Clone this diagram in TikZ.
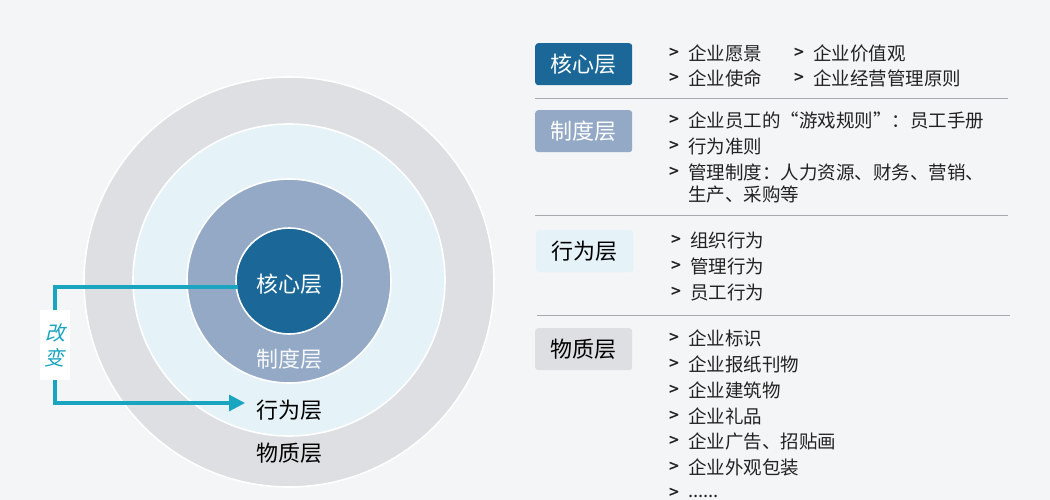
\documentclass[tikz,border=0pt]{standalone}
\usepackage{fontspec}
\setmainfont{Noto Sans CJK SC}
\newfontfamily\cjkit[FakeSlant=0.22]{Noto Sans CJK SC}
\newfontfamily\gtfont[FakeBold=1.2]{Noto Sans CJK SC}
\usetikzlibrary{arrows.meta}
\definecolor{bg}{HTML}{F3F5F7}
\definecolor{ringA}{HTML}{DDDFE2}
\definecolor{ringB}{HTML}{E5F2F8}
\definecolor{ringC}{HTML}{93A9C6}
\definecolor{ringD}{HTML}{1B6898}
\definecolor{teal}{HTML}{19A4BF}
\definecolor{sep}{HTML}{A7AAAE}
\definecolor{txt}{HTML}{222222}
\begin{document}
\begin{tikzpicture}[x=1pt,y=-1pt,
  ring/.style={draw=white,line width=1.6pt},
  clabel/.style={font=\fontsize{22}{24}\selectfont,inner sep=0pt},
  tagbox/.style={rounded corners=3pt,minimum width=97pt,minimum height=42pt,inner sep=0pt,font=\fontsize{22}{24}\selectfont,anchor=north west},
  item/.style={anchor=west,inner sep=0pt,font=\fontsize{18.5}{20}\selectfont,text=txt},
  gt/.style={anchor=west,inner sep=0pt,font=\gtfont\fontsize{17}{20}\selectfont,text=txt},
  sepline/.style={draw=sep,line width=0.9pt},
  arrowc/.style={draw=teal,line width=3.2pt}
]
\fill[bg] (0,0) rectangle (1050,500);
\useasboundingbox (0,0) rectangle (1050,500);
% circles
\fill[ringA,ring] (289,282) circle[radius=205pt];
\fill[ringB,ring] (289,280) circle[radius=156pt];
\fill[ringC,ring] (289,281) circle[radius=102pt];
\fill[ringD,ring] (289,281) circle[radius=53pt];
% circle labels
\node[clabel,text=white] (lcore) at (289,284) {核心层};
\node[clabel,text=white!92!ringC] (lsys) at (289,359) {制度层};
\node[clabel,text=black] (lbeh) at (289,410) {行为层};
\node[clabel,text=black] (lmat) at (289,453) {物质层};
% change arrow
\coordinate (astart) at (238,287);
\coordinate (aend) at (245,403);
\node[fill=white,minimum width=30pt,minimum height=70pt,inner sep=0pt,text=teal,
  font=\cjkit\fontsize{20}{25}\selectfont,align=center] (change) at (55,345) {改\\变};
\draw[arrowc] (astart) -| (change.north);
\draw[arrowc,-{Triangle[length=16pt,width=16pt]}] (change.south) |- (aend);
% right side tags
\node[tagbox,fill=ringD,text=white] (tcore) at (535,43) {核心层};
\node[tagbox,fill=ringC,text=white] (tsys) at (535,110) {制度层};
\node[tagbox,fill=ringB,text=black] (tbeh) at (536,230) {行为层};
\node[tagbox,fill=ringA,text=black] (tmat) at (535,328) {物质层};
% separators
\draw[sepline] (535,98) -- (1008,98);
\draw[sepline] (535,215) -- (1008,215);
\draw[sepline] (537,315) -- (1010,315);
% core items
\node[gt] at (669,53) {>}; \node[item] at (688,53) {企业愿景};
\node[gt] at (794,53) {>}; \node[item] at (813,53) {企业价值观};
\node[gt] at (669,78) {>}; \node[item] at (688,78) {企业使命};
\node[gt] at (794,78) {>}; \node[item] at (813,78) {企业经营管理原则};
% system items
\node[gt] at (669,120) {>}; \node[item] at (688,120) {企业员工的“游戏规则”：员工手册};
\node[gt] at (669,146) {>}; \node[item] at (688,146) {行为准则};
\node[gt] at (669,172) {>}; \node[item] at (688,172) {管理制度：人力资源、财务、营销、};
\node[item] at (688,194) {生产、采购等};
% behaviour items
\node[gt] at (671,240) {>}; \node[item] at (690,240) {组织行为};
\node[gt] at (671,266) {>}; \node[item] at (690,266) {管理行为};
\node[gt] at (671,292) {>}; \node[item] at (690,292) {员工行为};
% material items
\node[gt] at (669,338) {>}; \node[item] at (688,338) {企业标识};
\node[gt] at (669,364) {>}; \node[item] at (688,364) {企业报纸刊物};
\node[gt] at (669,390) {>}; \node[item] at (688,390) {企业建筑物};
\node[gt] at (669,416) {>}; \node[item] at (688,416) {企业礼品};
\node[gt] at (669,441) {>}; \node[item] at (688,441) {企业广告、招贴画};
\node[gt] at (669,467) {>}; \node[item] at (688,467) {企业外观包装};
\node[gt] at (669,493) {>}; \node[item] at (688,496) {......};
\end{tikzpicture}
\end{document}
